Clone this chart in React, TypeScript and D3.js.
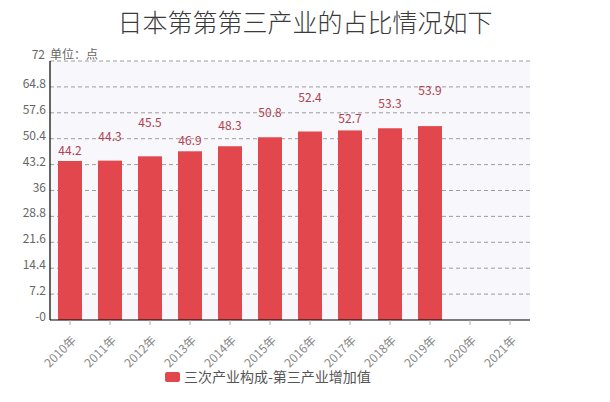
import React from "react";
import * as d3 from "d3";

const categories = ["2010年","2011年","2012年","2013年","2014年","2015年","2016年","2017年","2018年","2019年","2020年","2021年"];
const values: (number | null)[] = [44.2, 44.3, 45.5, 46.9, 48.3, 50.8, 52.4, 52.7, 53.3, 53.9, null, null];
const yTicks = [0, 7.2, 14.4, 21.6, 28.8, 36, 43.2, 50.4, 57.6, 64.8, 72];
const yTickLabels = ["-0", "7.2", "14.4", "21.6", "28.8", "36", "43.2", "50.4", "57.6", "64.8", "72"];
const labelLift = [6, 20, 29, 6, 16, 20, 30, 7, 20, 31, 0, 0];
const title = "日本第第第三产业的占比情况如下";
const unitLabel = "单位：点";
const seriesName = "三次产业构成-第三产业增加值";

export default function App() {
  const W = 610, H = 402;
  const left = 50, right = 530, top = 61, bottom = 320;
  const x = d3.scaleBand<string>().domain(categories).range([left, right]).paddingInner(0.4).paddingOuter(0.2);
  const xc = d3.scaleBand<string>().domain(categories).range([left, right]);
  const y = d3.scaleLinear().domain([0, 72]).range([bottom, top]);
  const font = "'Noto Sans CJK SC', 'Noto Sans', sans-serif";
  return (
    <svg width={W} height={H} style={{ position: "absolute", left: 0, top: 0, background: "#fff" }} fontFamily={font}>
      <text x={305} y={32} textAnchor="middle" fontSize={25} fill="#3a3a3a" fontWeight={300}>{title}</text>
      <rect x={left} y={top} width={right - left} height={bottom - top} fill="#f7f7fc" />
      {yTicks.map((t, i) => (
        <g key={i}>
          {i > 0 && (
            <line x1={left} x2={right + 3} y1={y(t)} y2={y(t)} stroke="#888" strokeDasharray="4,3" strokeWidth={0.8} />
          )}
          <text x={i === yTicks.length - 1 ? 45 : 46} y={y(t) + (i === yTicks.length - 1 ? -2 : 1)} textAnchor="end" fontSize={12} fill="#666">{yTickLabels[i]}</text>
        </g>
      ))}
      <text x={50} y={y(72) - 2} fontSize={12} fill="#666">{unitLabel}</text>
      {categories.map((c, i) => {
        const v = values[i];
        if (v == null) return null;
        return (
          <g key={c}>
            <rect x={x(c)} y={y(v)} width={x.bandwidth()} height={bottom - y(v)} fill="#e2474d" />
            <text x={x(c)! + x.bandwidth() / 2} y={y(v) - labelLift[i]} textAnchor="middle" fontSize={12} fill="#b0434f">{v}</text>
          </g>
        );
      })}
      <line x1={left} x2={left} y1={top} y2={bottom} stroke="#000" strokeWidth={1.2} />
      <line x1={left} x2={right} y1={bottom} y2={bottom} stroke="#000" strokeWidth={1.2} />
      {categories.map((c) => {
        const cx = xc(c)! + xc.bandwidth() / 2;
        return (
          <g key={c}>
            <line x1={cx} x2={cx} y1={bottom} y2={bottom + 5} stroke="#aaa" />
            <text transform={`translate(${cx + 1},${bottom + 15}) rotate(-45)`} textAnchor="end" fontSize={12} fill="#888" dy="0.7em">{c}</text>
          </g>
        );
      })}
      <rect x={165} y={372} width={15} height={10} fill="#e2474d" rx={2} />
      <text x={184} y={382} fontSize={14} fill="#555">{seriesName}</text>
    </svg>
  );
}
